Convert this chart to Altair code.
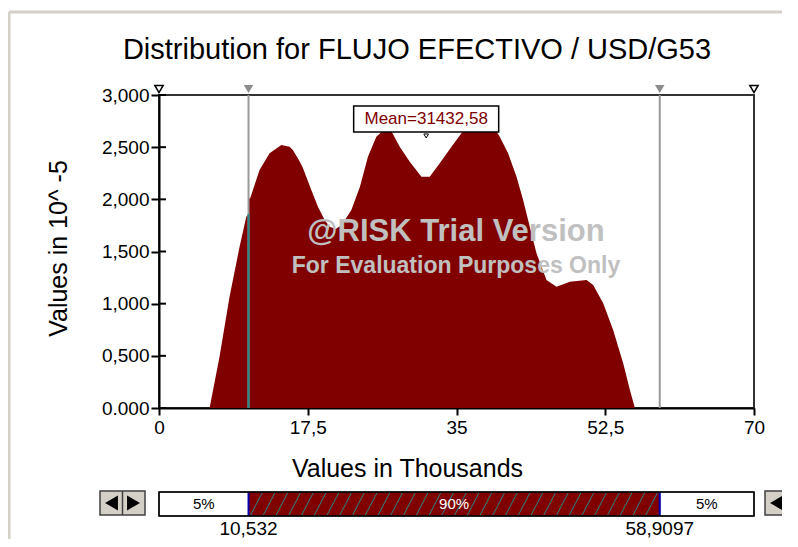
import altair as alt
import pandas as pd
import numpy as np

TITLE = "Distribution for FLUJO EFECTIVO / USD/G53"
X_TITLE = "Values in Thousands"
Y_TITLE = "Values in 10^ -5"

# density curve: x in thousands, y in 10^-5
curve_x = [5.95, 7.12, 8.30, 9.48, 10.27, 10.532, 10.532, 10.74, 11.83, 13.01,
           14.39, 15.37, 15.75, 16.54, 16.93, 17.92, 18.70, 19.49, 20.08, 20.78,
           21.49, 22.63, 23.64, 24.58, 25.57, 26.55, 27.14, 28.32, 29.50, 30.87,
           31.85, 33.03, 34.41, 35.58, 36.40, 37.40, 38.60, 39.70, 40.09, 41.07,
           42.06, 42.84, 43.62, 44.41, 45.59, 46.77, 48.33, 50.30, 51.08, 52.26,
           53.43, 54.61, 55.40, 55.99]
curve_y = [0, 492, 1067, 1546, 1834, 1860, 2000, 2012, 2281, 2441,
           2521, 2505, 2473, 2365, 2300, 2090, 1930, 1802, 1738, 1716,
           1754, 1898, 2121, 2409, 2600, 2674, 2684, 2505, 2361, 2217,
           2217, 2345, 2505, 2633, 2700, 2740, 2735, 2650, 2600, 2441,
           2217, 1994, 1738, 1483, 1227, 1163, 1211, 1227, 1179, 1004,
           748, 428, 173, 0]

x_ticks = [0, 17.5, 35, 52.5, 70]
y_ticks = [0, 500, 1000, 1500, 2000, 2500, 3000]

p5 = 10.532
p95 = 58.9097
mean_val = 31.43258
mean_label = "Mean=31432,58"
bounds = [0, 10.532, 58.9097, 70]
pct_labels = ["5%", "90%", "5%"]
bound_labels = ["10,532", "58,9097"]
wm1 = "@RISK Trial Version"
wm2 = "For Evaluation Purposes Only"

FONT = "Liberation Sans"
DARK_RED = "#800000"
GRAY = "#999999"
TEAL = "#2a8585"
BTN = "#d4d0c8"

xs = alt.Scale(domain=[0, 70], nice=False, zero=False)
ys = alt.Scale(domain=[0, 3000], nice=False, zero=True)

curve = pd.DataFrame({"x": curve_x, "y": curve_y})

area = alt.Chart(curve).mark_area(color=DARK_RED, interpolate="linear").encode(
    x=alt.X("x:Q", scale=xs, axis=alt.Axis(
        values=x_ticks, labelExpr="replace(toString(datum.value), '.', ',')",
        title=X_TITLE, grid=False, tickSize=7, labelPadding=3, labelFontSize=19,
        titleFontSize=25, titleFontWeight="normal", titleX=248, titleY=60,
        titleBaseline="middle", titleAlign="center", labelFlush=False)),
    y=alt.Y("y:Q", scale=ys, stack=None, axis=alt.Axis(
        values=y_ticks,
        labelExpr="datum.value == 0 ? '0.000' : replace(format(datum.value / 1000, '.3f'), '.', ',')",
        title=Y_TITLE, grid=False, tickSize=8, labelPadding=2, labelFontSize=19,
        titleFontSize=25, titleFontWeight="normal", titleX=-101, titleY=153,
        titleAngle=270, titleBaseline="middle", titleAlign="center")),
)

lines = pd.DataFrame({"x": [p5, p95], "top": [3000, 3000]})
gray_rules = alt.Chart(lines).mark_rule(color=GRAY, strokeWidth=2).encode(
    x=alt.X("x:Q", scale=xs), y=alt.Y("top:Q", scale=ys), y2=alt.datum(0))

teal_top = curve_y[curve_x.index(p5)]
teal_df = pd.DataFrame({"x": [p5], "top": [teal_top]})
teal_rule = alt.Chart(teal_df).mark_rule(color=TEAL, strokeWidth=2).encode(
    x=alt.X("x:Q", scale=xs), y=alt.Y("top:Q", scale=ys), y2=alt.datum(0))

mk_filled = pd.DataFrame({"x": [p5, p95], "top": [3000, 3000]})
mk_hollow = pd.DataFrame({"x": [0, 70], "top": [3000, 3000]})
markers_f = alt.Chart(mk_filled).mark_point(
    shape="triangle-down", filled=True, color="#8c8c8c", size=90, yOffset=-6, opacity=1
).encode(x=alt.X("x:Q", scale=xs), y=alt.Y("top:Q", scale=ys))
markers_h = alt.Chart(mk_hollow).mark_point(
    shape="triangle-down", filled=True, fill="white", stroke="black", strokeWidth=1.5,
    size=70, yOffset=-6, opacity=1
).encode(x=alt.X("x:Q", scale=xs), y=alt.Y("top:Q", scale=ys))

ytick_df = pd.DataFrame({"y": y_ticks})
inner_ticks = alt.Chart(ytick_df).mark_rule(color="black", strokeWidth=2).encode(
    y=alt.Y("y:Q", scale=ys), x=alt.value(0), x2=alt.value(7))

title_txt = alt.Chart(pd.DataFrame({"t": [TITLE]})).mark_text(
    font=FONT, fontSize=29, color="black", baseline="middle", align="center"
).encode(text="t:N", x=alt.value(258), y=alt.value(-45))

wm_a = alt.Chart(pd.DataFrame({"t": [wm1]})).mark_text(
    font=FONT, fontSize=31, fontWeight="bold", color="#c0c0c0", baseline="middle", align="center"
).encode(text="t:N", x=alt.value(297), y=alt.value(137))
wm_b = alt.Chart(pd.DataFrame({"t": [wm2]})).mark_text(
    font=FONT, fontSize=23, fontWeight="bold", color="#c0c0c0", baseline="middle", align="center"
).encode(text="t:N", x=alt.value(297), y=alt.value(171))

mean_df = pd.DataFrame({"x": [mean_val], "label": [mean_label]})
box_path = "M-1,-0.1793L1,-0.1793L1,0.1793L-1,0.1793Z"
mean_box = alt.Chart(mean_df).mark_point(
    shape=box_path, size=145 * 145, filled=True, fill="white", stroke="black",
    strokeWidth=1.5, opacity=1
).encode(x=alt.X("x:Q", scale=xs), y=alt.value(24))
mean_text = alt.Chart(mean_df).mark_text(
    font=FONT, fontSize=17, color=DARK_RED, baseline="middle", align="center"
).encode(x=alt.X("x:Q", scale=xs), y=alt.value(24), text="label:N")
mean_ptr = alt.Chart(mean_df).mark_point(
    shape="triangle-down", size=22, filled=True, fill="white", stroke="black",
    strokeWidth=1, opacity=1
).encode(x=alt.X("x:Q", scale=xs), y=alt.value(41))

# bottom percentile bar
seg = pd.DataFrame({
    "x0": bounds[:-1], "x1": bounds[1:], "label": pct_labels,
})
seg["mid"] = (seg["x0"] + seg["x1"]) / 2
BAR_T, BAR_B = 397, 421
seg_rect = alt.Chart(seg).mark_rect(stroke="black", strokeWidth=1).encode(
    x=alt.X("x0:Q", scale=xs), x2="x1:Q",
    y=alt.value(BAR_T), y2=alt.value(BAR_B),
    fill=alt.condition("datum.label == '90%'", alt.value(DARK_RED), alt.value("white")),
)
hx = np.arange(p5 + 0.25, p95 - 1.3, 1.5)
hatch = pd.DataFrame({"a": hx, "b": hx + 1.35})
hatch_rules = alt.Chart(hatch).mark_rule(color=TEAL, strokeWidth=1).encode(
    x=alt.X("a:Q", scale=xs), x2="b:Q", y=alt.value(BAR_B - 1), y2=alt.value(BAR_T + 1))
blue_df = pd.DataFrame({"x": [p5, p95]})
blue_rules = alt.Chart(blue_df).mark_rule(color="#0000b0", strokeWidth=2).encode(
    x=alt.X("x:Q", scale=xs), y=alt.value(BAR_T), y2=alt.value(BAR_B))
outline_df = pd.DataFrame({"a": [bounds[0]], "b": [bounds[-1]]})
outline = alt.Chart(outline_df).mark_rect(fillOpacity=0, stroke="black", strokeWidth=1.5).encode(
    x=alt.X("a:Q", scale=xs), x2="b:Q", y=alt.value(BAR_T), y2=alt.value(BAR_B))
seg_text = alt.Chart(seg).mark_text(font=FONT, fontSize=15, baseline="middle", align="center").encode(
    x=alt.X("mid:Q", scale=xs), y=alt.value((BAR_T + BAR_B) / 2), text="label:N",
    color=alt.condition("datum.label == '90%'", alt.value("white"), alt.value("black")),
)
bl_df = pd.DataFrame({"x": [p5, p95], "label": bound_labels})
bound_text = alt.Chart(bl_df).mark_text(font=FONT, fontSize=19, baseline="middle", align="center",
                                        color="black").encode(
    x=alt.X("x:Q", scale=xs), y=alt.value(434), text="label:N")

# scroll buttons (decoration)
def buttons(x_left):
    one = pd.DataFrame({"k": [0]})
    bg = alt.Chart(one).mark_rect(fill=BTN, stroke="#404040", strokeWidth=1.5).encode(
        x=alt.value(x_left), x2=alt.value(x_left + 45), y=alt.value(396), y2=alt.value(420))
    div = alt.Chart(one).mark_rule(color="#404040", strokeWidth=1.5).encode(
        x=alt.value(x_left + 22.5), y=alt.value(396), y2=alt.value(420))
    tl = alt.Chart(one).mark_point(shape="triangle-left", filled=True, color="black",
                                   size=220, opacity=1).encode(
        x=alt.value(x_left + 11.5), y=alt.value(408))
    tr = alt.Chart(one).mark_point(shape="triangle-right", filled=True, color="black",
                                   size=220, opacity=1).encode(
        x=alt.value(x_left + 33.5), y=alt.value(408))
    return [bg, div, tl, tr]

one = pd.DataFrame({"k": [0]})
frame_top = alt.Chart(one).mark_rule(color=BTN, strokeWidth=3).encode(
    x=alt.value(-150), x2=alt.value(640), y=alt.value(-83))
frame_left = alt.Chart(one).mark_rule(color=BTN, strokeWidth=3).encode(
    x=alt.value(-150), y=alt.value(-83), y2=alt.value(450))

layers = [area, gray_rules, teal_rule, markers_f, markers_h, inner_ticks, title_txt, wm_a, wm_b,
          mean_box, mean_text, mean_ptr,
          seg_rect, hatch_rules, blue_rules, outline, seg_text, bound_text,
          frame_top, frame_left] + buttons(-59) + buttons(606)

chart = alt.layer(*layers).properties(
    width=595, height=313,
    autosize=alt.AutoSizeParams(type="none"),
    padding={"left": 151, "top": 87, "right": 28, "bottom": 131},
    background="white",
).configure_view(stroke="#333333", strokeWidth=2).configure_axis(
    domainColor="black", domainWidth=2, tickColor="black", tickWidth=2,
    labelFont=FONT, titleFont=FONT, labelColor="black", titleColor="black",
)

chart.save("out.html", embed_options={"renderer": "svg", "actions": False})
